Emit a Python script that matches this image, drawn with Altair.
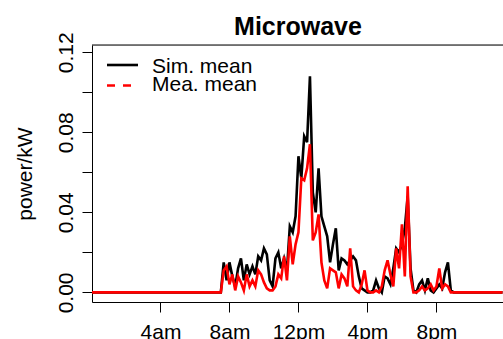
import altair as alt
import pandas as pd

# 10-minute slots over one day (144 slots); non-zero activity between slot 45 and 126
START_SLOT = 45
sim_active = [0.000, 0.015, 0.006, 0.015, 0.008, 0.003, 0.012, 0.017, 0.006, 0.014,
              0.009, 0.013, 0.009, 0.018, 0.016, 0.022, 0.019, 0.006, 0.003, 0.017,
              0.020, 0.012, 0.017, 0.011, 0.033, 0.030, 0.038, 0.068, 0.057, 0.078,
              0.075, 0.108, 0.050, 0.040, 0.062, 0.038, 0.033, 0.028, 0.015, 0.024,
              0.032, 0.011, 0.017, 0.016, 0.014, 0.016, 0.018, 0.016, 0.008, 0.002,
              0.001, 0.000, 0.000, 0.001, 0.006, 0.002, 0.000, 0.008, 0.007, 0.004,
              0.012, 0.022, 0.020, 0.024, 0.032, 0.048, 0.012, 0.001, 0.000, 0.004,
              0.006, 0.001, 0.007, 0.001, 0.000, 0.002, 0.004, 0.002, 0.010, 0.015,
              0.001, 0.000]
mea_active = [0.000, 0.011, 0.013, 0.004, 0.009, 0.001, 0.008, 0.005, 0.001, 0.009,
              0.003, 0.006, 0.003, 0.011, 0.009, 0.005, 0.002, 0.001, 0.001, 0.003,
              0.009, 0.007, 0.018, 0.006, 0.028, 0.014, 0.024, 0.030, 0.057, 0.056,
              0.062, 0.074, 0.026, 0.030, 0.039, 0.015, 0.006, 0.002, 0.012, 0.011,
              0.010, 0.002, 0.009, 0.007, 0.003, 0.022, 0.003, 0.001, 0.000, 0.004,
              0.011, 0.001, 0.000, 0.000, 0.001, 0.000, 0.003, 0.011, 0.016, 0.009,
              0.003, 0.022, 0.012, 0.034, 0.008, 0.053, 0.008, 0.000, 0.000, 0.001,
              0.003, 0.001, 0.002, 0.004, 0.001, 0.003, 0.012, 0.002, 0.004, 0.003,
              0.000, 0.000]
N_SLOTS = 144

tick_hours = [4, 8, 12, 16, 20]
tick_labels = ["4am", "8am", "12pm", "4pm", "8pm"]
y_ticks = [0.0, 0.02, 0.04, 0.06, 0.08, 0.10, 0.12]
series_names = ["Sim. mean", "Mea. mean"]
title_text = "Microwave"


def full_day(active):
    vals = [0.0] * N_SLOTS
    for k, v in enumerate(active):
        vals[START_SLOT + k] = v
    return vals


sim = full_day(sim_active)
mea = full_day(mea_active)
hours = [i / 6 for i in range(N_SLOTS)]
df_sim = pd.DataFrame({"hour": hours, "power": sim})
df_mea = pd.DataFrame({"hour": hours, "power": mea})
one = pd.DataFrame({"k": [0]})

W, H = 411, 257
FONT = "Liberation Sans"
LW = 2.6

label_expr = " : ".join(
    f"datum.value == {h} ? '{l}'" for h, l in zip(tick_hours, tick_labels)
) + " : ''"

xscale = alt.Scale(domain=[0.03, 23.86], nice=False, zero=False)
yscale = alt.Scale(domain=[-0.0048, 0.1236], nice=False, zero=False)

x = alt.X("hour:Q", scale=xscale,
          axis=alt.Axis(values=tick_hours, labelExpr=label_expr, title=None,
                        grid=False, tickSize=10, tickColor="black", domainColor="black",
                        labelFontSize=21, labelFont=FONT, labelColor="black",
                        labelPadding=26, labelBaseline="alphabetic",
                        labelOverlap=False, labelFlush=False))
y = alt.Y("power:Q", scale=yscale,
          axis=alt.Axis(values=y_ticks,
                        labelExpr="round(datum.value*100) % 4 == 0 ? format(datum.value, '.2f') : ''",
                        title="power/kW", titleFont=FONT, titleFontSize=21,
                        titleFontWeight="normal", titleColor="black", titleAngle=270,
                        titleX=-61, titleY=H / 2, titleAlign="center",
                        titleBaseline="alphabetic",
                        grid=False, tickSize=10, tickColor="black", domainColor="black",
                        labelFontSize=21, labelFont=FONT, labelColor="black",
                        labelAngle=270, labelAlign="center", labelBaseline="alphabetic",
                        labelPadding=10, labelOverlap=False, labelFlush=False))

line_sim = alt.Chart(df_sim).mark_line(color="black", strokeWidth=LW, clip=True).encode(x=x, y=y)
line_mea = alt.Chart(df_mea).mark_line(color="#ff0000", strokeWidth=LW, clip=True).encode(
    x=alt.X("hour:Q", scale=xscale), y=alt.Y("power:Q", scale=yscale))

top_border = alt.Chart(one).mark_rule(color="black", strokeWidth=1).encode(
    x=alt.value(0), x2=alt.value(W), y=alt.value(0))

leg_sim_line = alt.Chart(one).mark_rule(color="black", strokeWidth=LW).encode(
    x=alt.value(15), x2=alt.value(46), y=alt.value(20))
leg_mea_line = alt.Chart(one).mark_rule(color="#ff0000", strokeWidth=LW, strokeDash=[8, 8]).encode(
    x=alt.value(15), x2=alt.value(40), y=alt.value(40.5))
leg_text_sim = alt.Chart(one).mark_text(font=FONT, fontSize=21, align="left",
                                        baseline="alphabetic", color="black",
                                        text=series_names[0]).encode(
    x=alt.value(60), y=alt.value(28))
leg_text_mea = alt.Chart(one).mark_text(font=FONT, fontSize=21, align="left",
                                        baseline="alphabetic", color="black",
                                        text=series_names[1]).encode(
    x=alt.value(60), y=alt.value(45.7))
title_mark = alt.Chart(one).mark_text(font=FONT, fontSize=25, fontWeight="bold",
                                      align="center", baseline="alphabetic",
                                      color="black", text=title_text).encode(
    x=alt.value(206), y=alt.value(-10))

chart = alt.layer(line_sim, line_mea, top_border, leg_sim_line, leg_mea_line,
                  leg_text_sim, leg_text_mea, title_mark).properties(
    width=W, height=H,
    autosize=alt.AutoSizeParams(type="none"),
    padding={"left": 92, "top": 45, "right": 0, "bottom": 37},
).configure_view(strokeWidth=0).configure(background="white")

chart.save("out.html", embed_options={"renderer": "svg", "actions": False})
